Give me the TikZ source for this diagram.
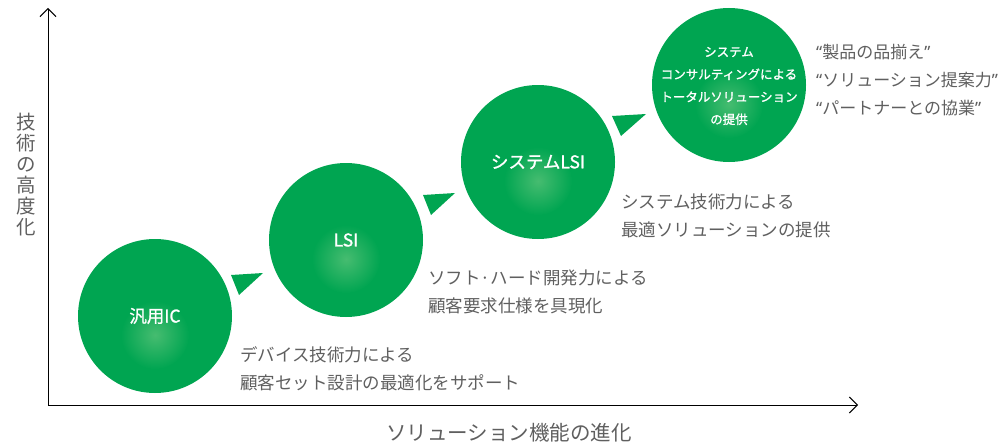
\documentclass[tikz,border=0pt]{standalone}
\usepackage{fontspec}
\setmainfont{Noto Sans CJK JP}
\newfontfamily\latq{Noto Sans}
\newfontfamily\jpmed[FakeBold=1.2]{Noto Sans CJK JP}
\usetikzlibrary{arrows.meta,calc}
\definecolor{icgreen}{RGB}{0,165,81}
\definecolor{glowgreen}{RGB}{70,188,112}
\definecolor{labelgray}{RGB}{95,95,95}
\newcommand{\oq}{{\latq “}}
\newcommand{\cq}{{\latq ”}}
\begin{document}
\begin{tikzpicture}[x=1pt,y=-1pt,
  stage/.style={circle,fill=icgreen,minimum size=154pt,inner sep=0pt},
  stagetext/.style={text=white,font=\jpmed\fontsize{17.5}{21}\selectfont,align=center,inner sep=0pt},
  smalltext/.style={text=white,font=\jpmed\fontsize{12.5}{22.5}\selectfont,align=center,inner sep=0pt},
  desc/.style={text=labelgray,font=\fontsize{17.5}{28}\selectfont,align=left,anchor=west,inner sep=0pt},
  axislabel/.style={text=labelgray,font=\fontsize{19.5}{21}\selectfont,align=center,inner sep=0pt},
  pointer/.style={fill=icgreen},
  axis/.style={line width=1pt,-{Straight Barb[length=8pt,width=16pt,line width=1pt]}}
]
\path[use as bounding box] (0,0) rectangle (1001,444);

% axes
\coordinate (origin) at (48,405);
\coordinate (ytop) at (48,8);
\coordinate (xend) at (858,405);
\draw[axis] (origin) -- (ytop);
\draw[axis] (origin) -- (xend);

% circles
\node[stage] (c1) at (155,316) {};
\node[stage] (c2) at (346,240) {};
\node[stage] (c3) at (538,162) {};
\node[stage] (c4) at (729,85) {};
\foreach \c in {c1,c2,c3,c4}{
  \shade[inner color=glowgreen,outer color=icgreen] ($(\c)+(0,19)$) circle (34);
}

\node[stagetext] (t1) at (c1) {汎用IC};
\node[stagetext] (t2) at (c2) {LSI};
\node[stagetext] (t3) at (c3) {システムLSI};
\node[smalltext] (t4) at ($(c4)+(0,1)$) {システム\\コンサルティングによる\\トータルソリューション\\の提供};

% pointers
\fill[pointer] (231,275) -- (263,273) -- (239,295) -- cycle;
\fill[pointer] (423,195) -- (455,193) -- (431,215) -- cycle;
\fill[pointer] (612,116) -- (646,114) -- (621,136) -- cycle;

% descriptions
\node[desc] (d1) at (240,369) {デバイス技術力による\\顧客セット設計の最適化をサポート};
\node[desc] (d2) at (428,292) {ソフト·ハード開発力による\\顧客要求仕様を具現化};
\node[desc] (d3) at (621,216) {システム技術力による\\最適ソリューションの提供};
\node[desc,font=\fontsize{17}{28}\selectfont] (d4) at (816,80) {\oq 製品の品揃え\cq\\\oq ソリューション提案力\cq\\\oq パートナーとの協業\cq};

% axis labels
\node[axislabel] (ylab) at (26,175) {技\\術\\の\\高\\度\\化};
\node[axislabel,font=\fontsize{20.5}{22}\selectfont] (xlab) at (509,433) {ソリューション機能の進化};
\end{tikzpicture}
\end{document}
